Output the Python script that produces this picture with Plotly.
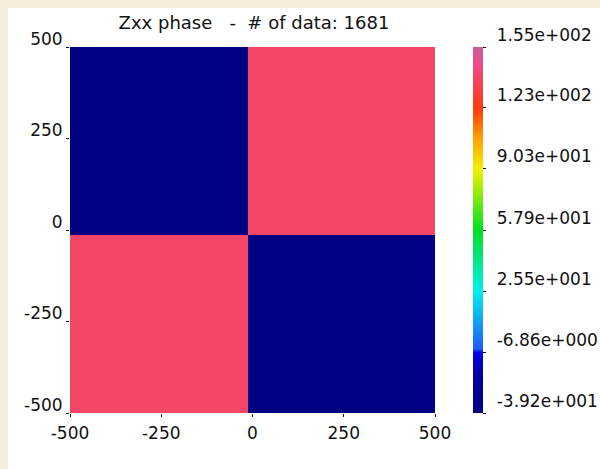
import plotly.graph_objects as go

# Data: quadrant bins (edges) and phase values (degrees)
x_edges = [-500, -12.5, 500]
y_edges = [-500, -12.5, 500]
# rows: bottom (y<0), top (y>0); columns: left (x<0), right (x>0)
z_bottom = [139.0, -39.2]
z_top = [-39.2, 139.0]
z_min = -39.2
z_max = 155.0
axis_ticks = [-500, -250, 0, 250, 500]
axis_tick_text = ["-500", "-250", "0", "250", "500"]
cbar_vals = [-39.2, -6.86, 25.5, 57.9, 90.3, 123.0, 155.0]
cbar_text = ["-3.92e+001", "-6.86e+000", "2.55e+001", "5.79e+001",
             "9.03e+001", "1.23e+002", "1.55e+002"]
title_text = "Zxx phase\u00a0\u00a0\u00a0-\u00a0\u00a0# of data: 1681"

colorscale = [
    [0.0, "#000080"],
    [0.10, "#00009e"],
    [0.165, "#0000e6"],
    [0.175, "#1e5cf0"],
    [0.333, "#00f0f0"],
    [0.5, "#00e020"],
    [0.667, "#f2f200"],
    [0.75, "#ffa000"],
    [0.833, "#ff3a10"],
    [0.95, "#f04a88"],
    [1.0, "#c8609a"],
]

FONT = "DejaVu Sans, Verdana, sans-serif"
W, H = 640, 461          # page body keeps an 8px margin on left/top; right side overflows (hidden)
L, T, B = 62, 39, 56
PW = 365
R = W - L - PW

fig = go.Figure(go.Heatmap(
    x=x_edges, y=y_edges, z=[z_bottom, z_top],
    zmin=z_min, zmax=z_max, colorscale=colorscale,
    colorbar=dict(
        x=(465 - L) / PW, xanchor="left", xref="paper", xpad=0,
        y=0.5, yanchor="middle", len=1.0, lenmode="fraction", ypad=0,
        thickness=10, outlinewidth=0,
        tickvals=cbar_vals, ticktext=["\u00a0\u00a0" + t for t in cbar_text],
        ticks="outside", ticklen=3, tickcolor="#111",
        ticklabelposition="outside top",
        tickfont=dict(family=FONT, size=17, color="#111"),
    ),
    hoverinfo="skip",
))

fig.update_layout(
    width=W, height=H,
    margin=dict(l=L, r=R, t=T, b=B, pad=0),
    paper_bgcolor="white",
    plot_bgcolor="white",
    font=dict(family=FONT, size=17, color="#111"),
    title=dict(text=title_text, x=246 / W, xanchor="center", xref="container",
               y=1 - 15 / H, yanchor="middle", yref="container",
               font=dict(size=18, color="#111")),
    xaxis=dict(range=[-500, 500], tickvals=axis_ticks, ticktext=axis_tick_text,
               showgrid=False, zeroline=False,
               ticks="outside", ticklen=3, tickcolor="#111", showline=False,
               ticklabelstandoff=2),
    yaxis=dict(range=[-500, 500], tickvals=axis_ticks, ticktext=axis_tick_text,
               showgrid=False, zeroline=False,
               ticks="outside", ticklen=3, tickcolor="#111", showline=False,
               ticklabelposition="outside top", ticklabelstandoff=3,
               ticklabelshift=4),
)

fig.write_html(
    "out.html",
    post_script=("document.body.style.margin='8px 0 0 8px';"
                 "document.body.style.backgroundColor='#f5ecdc';"
                 "document.documentElement.style.overflow='hidden';"
                 "document.body.style.overflow='hidden';"),
)
